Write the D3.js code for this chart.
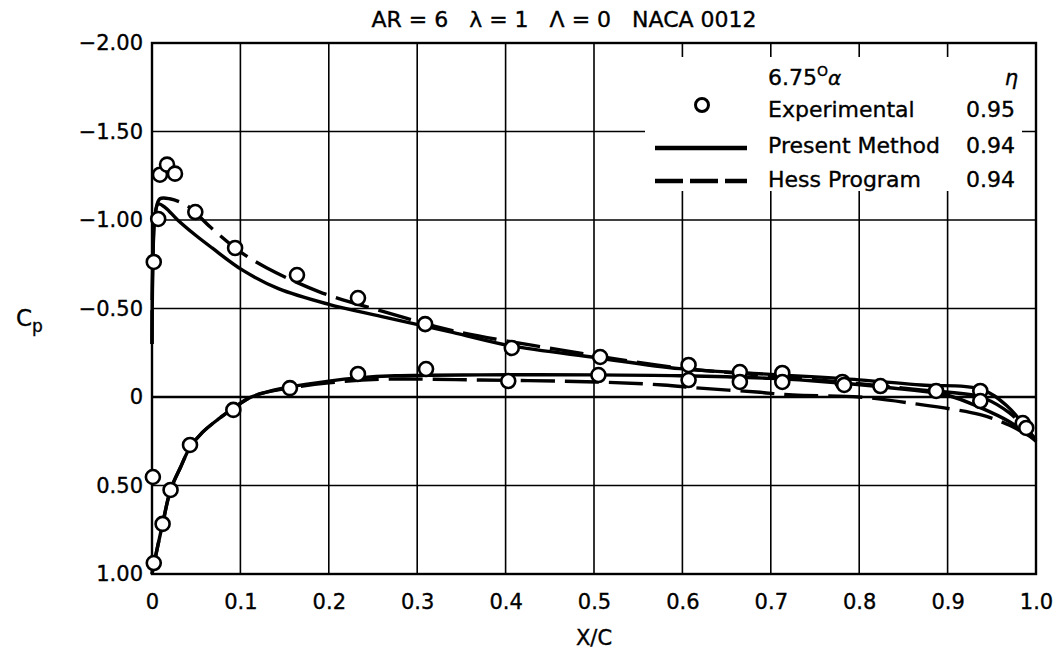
<!DOCTYPE html>
<html>
<head>
<meta charset="utf-8">
<script src="https://cdn.jsdelivr.net/npm/d3@7"></script>
<style>
  html, body { margin: 0; padding: 0; background: #fff; }
  svg { display: block; }
  text { font-family: "DejaVu Sans", "Liberation Sans", Arial, sans-serif; fill: #000;
         stroke: #000; stroke-width: 0.35px; }
</style>
</head>
<body>
<svg id="chart" width="1060" height="653"></svg>
<script>
// Pressure distribution, NACA 0012 wing (AR = 6, taper 1, no sweep), alpha = 6.75 deg
const xTicks = [0, 0.1, 0.2, 0.3, 0.4, 0.5, 0.6, 0.7, 0.8, 0.9, 1.0];
const xTickLabels = ["0", "0.1", "0.2", "0.3", "0.4", "0.5", "0.6", "0.7", "0.8", "0.9", "1.0"];
const yTicks = [-2, -1.5, -1, -0.5, 0, 0.5, 1];
const yTickLabels = ["\u22122.00", "\u22121.50", "\u22121.00", "\u22120.50", "0", "0.50", "1.00"];

// Experimental points [x/c, Cp]
const expUpper = [[0.002,-0.763],[0.007,-1.006],[0.009,-1.256],[0.017,-1.313],[0.026,-1.262],
  [0.049,-1.045],[0.094,-0.842],[0.164,-0.689],[0.233,-0.559],[0.309,-0.412],[0.407,-0.277],
  [0.507,-0.226],[0.607,-0.181],[0.665,-0.141],[0.713,-0.136],[0.781,-0.085],[0.824,-0.062],
  [0.887,-0.034],[0.937,-0.034],[0.985,0.147]];
const expLower = [[0.002,0.938],[0.001,0.452],[0.012,0.717],[0.021,0.525],[0.043,0.271],
  [0.092,0.073],[0.156,-0.05],[0.233,-0.13],[0.31,-0.158],[0.403,-0.09],[0.505,-0.124],
  [0.607,-0.096],[0.665,-0.085],[0.713,-0.085],[0.783,-0.068],[0.937,0.023],[0.989,0.175]];

// Present method, upper and lower surface
const presentUpper = [[0.000,-0.30],[0.001,-0.75],[0.003,-1.00],[0.007,-1.09],[0.015,-1.07],
  [0.029,-1.00],[0.049,-0.915],[0.068,-0.842],[0.102,-0.718],[0.143,-0.612],[0.199,-0.525],
  [0.264,-0.45],[0.34,-0.365],[0.405,-0.29],[0.503,-0.222],[0.597,-0.16],[0.7,-0.128],
  [0.8,-0.097],[0.87,-0.068],[0.937,-0.045],[0.967,0.05],[1.0,0.25]];
const presentLower = [[0.000,1.0],[0.004,0.9],[0.012,0.717],[0.021,0.525],[0.032,0.40],
  [0.043,0.285],[0.057,0.20],[0.075,0.125],[0.093,0.06],[0.11,0.005],[0.124,-0.02],
  [0.154,-0.055],[0.2,-0.09],[0.233,-0.108],[0.275,-0.12],[0.371,-0.125],[0.5,-0.125],
  [0.597,-0.12],[0.7,-0.105],[0.764,-0.085],[0.857,-0.04],[0.9,-0.01],[0.937,0.06],
  [0.97,0.14],[1.0,0.25]];

// Hess program, upper and lower surface
const hessUpper = [[0.000,-0.30],[0.001,-0.8],[0.004,-1.05],[0.009,-1.12],[0.02,-1.12],
  [0.04,-1.08],[0.066,-0.96],[0.1,-0.82],[0.13,-0.729],[0.19,-0.593],[0.264,-0.48],
  [0.34,-0.375],[0.462,-0.266],[0.597,-0.164],[0.7,-0.12],[0.8,-0.075],[0.87,-0.04],
  [0.937,0.0],[0.97,0.09],[1.0,0.24]];
const hessLower = [[0.000,1.0],[0.004,0.9],[0.012,0.717],[0.021,0.525],[0.032,0.40],
  [0.043,0.285],[0.057,0.20],[0.075,0.125],[0.093,0.06],[0.11,0.005],[0.124,-0.02],
  [0.154,-0.05],[0.2,-0.08],[0.258,-0.10],[0.371,-0.096],[0.503,-0.085],[0.578,-0.068],
  [0.62,-0.05],[0.684,-0.028],[0.725,-0.011],[0.8,0.0],[0.857,0.034],[0.937,0.10],
  [0.97,0.16],[1.0,0.24]];

const svg = d3.select("#chart");
const plotLeft = 152, plotRight = 1036, plotTop = 43, plotBottom = 574;

const x = d3.scaleLinear().domain([0, 1]).range([plotLeft, plotRight]);
const y = d3.scaleLinear().domain([-2, 1]).range([plotTop, plotBottom]);

// grid
const grid = svg.append("g");
grid.selectAll(".vg").data(xTicks).join("line")
  .attr("x1", d => x(d)).attr("x2", d => x(d))
  .attr("y1", plotTop).attr("y2", plotBottom)
  .attr("stroke", "#000").attr("stroke-width", 1.6);
grid.selectAll(".hg").data(yTicks).join("line")
  .attr("x1", plotLeft).attr("x2", plotRight)
  .attr("y1", d => y(d)).attr("y2", d => y(d))
  .attr("stroke", "#000").attr("stroke-width", d => d === 0 ? 2.4 : 1.6);

// frame
svg.append("rect")
  .attr("x", plotLeft).attr("y", plotTop)
  .attr("width", plotRight - plotLeft).attr("height", plotBottom - plotTop)
  .attr("fill", "none").attr("stroke", "#000").attr("stroke-width", 2.4);

// tick labels
const xAxis = d3.axisBottom(x).tickValues(xTicks)
  .tickFormat((d, i) => xTickLabels[i]).tickSize(0).tickPadding(20);
svg.append("g").attr("transform", `translate(0,${plotBottom})`).call(xAxis)
  .call(g => g.select(".domain").remove())
  .call(g => g.selectAll("text").attr("font-size", 21)
    .attr("font-family", "DejaVu Sans, Liberation Sans, Arial, sans-serif"));

const yAxis = d3.axisLeft(y).tickValues(yTicks)
  .tickFormat((d, i) => yTickLabels[i]).tickSize(0).tickPadding(9);
svg.append("g").attr("transform", `translate(${plotLeft},0)`).call(yAxis)
  .call(g => g.select(".domain").remove())
  .call(g => g.selectAll("text").attr("font-size", 21)
    .attr("font-family", "DejaVu Sans, Liberation Sans, Arial, sans-serif"));

// curves
const line = d3.line().x(d => x(d[0])).y(d => y(d[1])).curve(d3.curveCatmullRom.alpha(0.5));
const curves = svg.append("g").attr("fill", "none").attr("stroke", "#000")
  .attr("stroke-width", 3.4).attr("stroke-linejoin", "round");
curves.append("path").attr("d", line(presentUpper));
curves.append("path").attr("d", line(presentLower));
curves.append("path").attr("d", line(hessUpper)).attr("stroke-dasharray", "34,10");
curves.append("path").attr("d", line(hessLower)).attr("stroke-dasharray", "34,10");

// experimental points
svg.append("g").selectAll("circle").data(expUpper.concat(expLower)).join("circle")
  .attr("cx", d => x(d[0])).attr("cy", d => y(d[1])).attr("r", 7)
  .attr("fill", "#fff").attr("stroke", "#000").attr("stroke-width", 2.6);

// legend
const lg = svg.append("g");
lg.append("rect").attr("x", 645).attr("y", 57).attr("width", 377).attr("height", 134).attr("fill", "#fff");
const hdr = lg.append("text").attr("x", 768).attr("y", 85).attr("font-size", 22);
hdr.append("tspan").text("6.75");
hdr.append("tspan").text("O").attr("font-size", 14).attr("dy", -9);
hdr.append("tspan").text("\u03b1").attr("font-style", "italic").attr("font-size", 20).attr("dy", 9);
lg.append("text").attr("x", 1018).attr("y", 85).attr("text-anchor", "end")
  .attr("font-size", 21).attr("font-style", "italic").text("\u03b7");

const legendRows = [
  { label: "Experimental", eta: "0.95", base: 117 },
  { label: "Present Method", eta: "0.94", base: 153 },
  { label: "Hess Program", eta: "0.94", base: 187 }
];
lg.selectAll(".lbl").data(legendRows).join("text")
  .attr("x", 768).attr("y", d => d.base).attr("font-size", 22).text(d => d.label);
lg.selectAll(".eta").data(legendRows).join("text")
  .attr("x", 1015).attr("y", d => d.base).attr("text-anchor", "end").attr("font-size", 22).text(d => d.eta);
lg.append("circle").attr("cx", 702).attr("cy", 105).attr("r", 6.5)
  .attr("fill", "#fff").attr("stroke", "#000").attr("stroke-width", 3);
lg.append("line").attr("x1", 655).attr("x2", 747).attr("y1", 148).attr("y2", 148)
  .attr("stroke", "#000").attr("stroke-width", 4.5);
lg.append("line").attr("x1", 655).attr("x2", 747).attr("y1", 181).attr("y2", 181)
  .attr("stroke", "#000").attr("stroke-width", 4.5).attr("stroke-dasharray", "28,7");

// title and axis titles
svg.append("text").attr("x", 564).attr("y", 27).attr("text-anchor", "middle")
  .attr("font-size", 22).style("white-space", "pre")
  .text("AR = 6   \u03bb = 1   \u039b = 0   NACA 0012");
const cp = svg.append("text").attr("x", 16).attr("y", 326).attr("font-size", 23);
cp.append("tspan").text("C");
cp.append("tspan").text("p").attr("font-size", 17).attr("dy", 6);
svg.append("text").attr("x", 594).attr("y", 645).attr("text-anchor", "middle")
  .attr("font-size", 21).text("X/C");
</script>
</body>
</html>
